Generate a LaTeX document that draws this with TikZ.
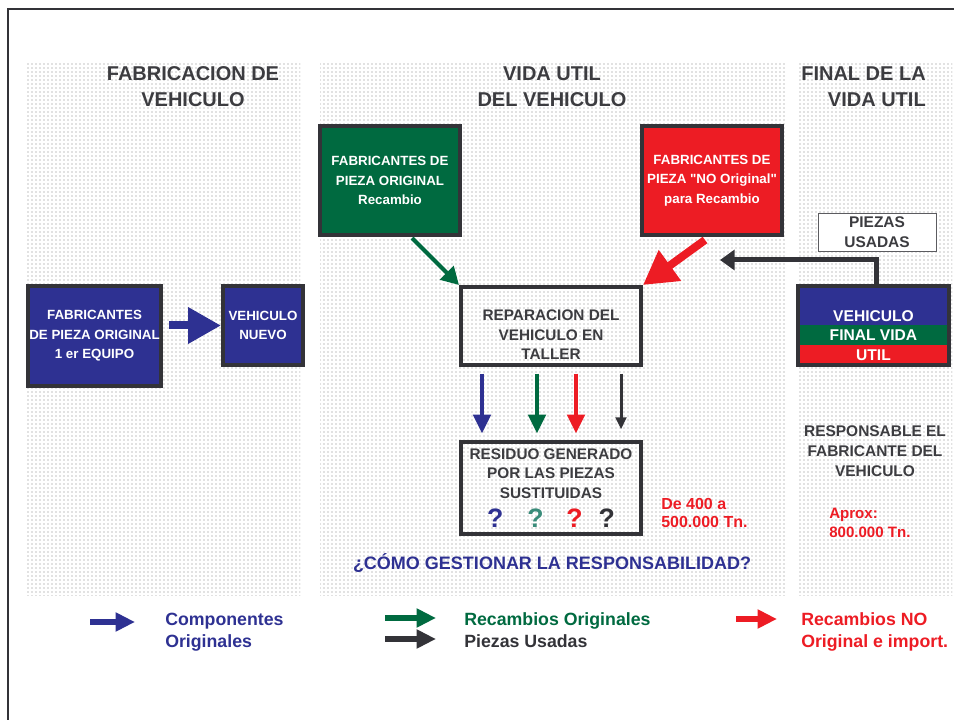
\documentclass[tikz,border=0pt]{standalone}
\usepackage{fontspec}
\setmainfont{Liberation Sans}[Ligatures=TeXOff]
\usetikzlibrary{arrows.meta,patterns,calc}
\definecolor{vblue}{RGB}{46,49,146}
\definecolor{vgreen}{RGB}{0,106,64}
\definecolor{vred}{RGB}{237,28,36}
\definecolor{dgray}{RGB}{51,51,56}
\definecolor{tgray}{RGB}{60,60,64}
\definecolor{qteal}{RGB}{58,140,122}

\begin{document}
\begin{tikzpicture}[x=0.75pt,y=-0.75pt,
  panel/.style={pattern=dots,pattern color=black!50},
  title/.style={font=\fontsize{15}{19.5}\selectfont\bfseries,text=tgray,align=center,inner sep=0pt},
  cbox/.style={draw=dgray,line width=3pt,align=center,text=white,inner sep=0pt,
    font=\fontsize{10}{14.6}\selectfont\bfseries},
  wbox/.style={draw=dgray,line width=3pt,inner sep=0pt},
  btext/.style={font=\fontsize{11.5}{14.6}\selectfont\bfseries,text=tgray,align=center,inner sep=0pt},
  note/.style={font=\fontsize{12}{13.5}\selectfont\bfseries,text=vred,align=left,inner sep=0pt,anchor=west},
  legend/.style={font=\fontsize{13.3}{16.5}\selectfont\bfseries,align=left,anchor=west,inner sep=0pt},
  legarrow/.style={line width=4.5pt,-{Triangle[length=14.5pt,width=13.5pt]}},
  downarrow/.style={line width=3pt,shorten <=5pt,shorten >=5pt,-{Triangle[length=14pt,width=13pt]}}]
\useasboundingbox (0,0) rectangle (954,720);
\draw[dgray,line width=1.5pt] (8,720) |- (954,9);
\fill[panel] (27,63) rectangle (300,595);
\fill[panel] (320,63) rectangle (785,595);
\fill[panel] (797,63) rectangle (952,595);
% titles
\node[title] (tFab) at (193,87) {FABRICACION DE\\VEHICULO};
\node[title] (tVida) at (552,87) {VIDA UTIL\\DEL VEHICULO};
\node[title,align=right,anchor=east] (tFin) at (926,87) {FINAL DE LA\\VIDA UTIL};
% boxes
\node[cbox,fill=vblue,minimum width=99.75pt,minimum height=75pt] (fab) at (94.5,336)
  {FABRICANTES\\DE PIEZA ORIGINAL\\1 er EQUIPO};
\node[cbox,fill=vblue,minimum width=60pt,minimum height=59.25pt] (nuevo) at (263,325.5)
  {VEHICULO\\NUEVO};
\node[cbox,fill=vgreen,minimum width=105pt,minimum height=81.75pt] (orig) at (390,180.5)
  {FABRICANTES DE\\PIEZA ORIGINAL\\Recambio};
\node[cbox,fill=vred,minimum width=105pt,minimum height=81.75pt] (noorig) at (712,180.5)
  {FABRICANTES DE\\PIEZA "NO Original"\\para Recambio};
\node[wbox,minimum width=135pt,minimum height=58.5pt] (rep) at (551,326) {};
\node[btext] (repT) at (551,335) {REPARACION DEL\\VEHICULO EN\\TALLER};
\node[wbox,btext,minimum width=135pt,minimum height=69pt] (res) at (551,488)
  {RESIDUO GENERADO\\POR LAS PIEZAS\\SUSTITUIDAS\\[7pt]{\fontsize{20}{24}\selectfont
  \textcolor{vblue}{?}\hspace{18pt}\textcolor{qteal}{?}\hspace{17pt}\textcolor{vred}{?}\hspace{12pt}\textcolor{dgray}{?}}};
\node[draw=dgray!80,line width=0.75pt,fill=white,minimum width=88.5pt,minimum height=29pt,
  btext,font=\fontsize{11.6}{15}\selectfont\bfseries] (used) at (877,232.5) {PIEZAS\\USADAS};
\node[wbox,fill=vblue,minimum width=113.25pt,minimum height=59.25pt,
  path picture={
    \fill[vred] (path picture bounding box.south west) rectangle ([yshift=15pt]path picture bounding box.south east);
    \fill[vgreen] ([yshift=15pt]path picture bounding box.south west) rectangle ([yshift=30pt]path picture bounding box.south east);
  }] (fin) at (873.5,325.5) {};
\node[btext,text=white,font=\fontsize{11.7}{14.6}\selectfont\bfseries] (finT) at (873.5,335.5)
  {VEHICULO\\FINAL VIDA\\UTIL};
% texts
\node[note] (tons) at (661,513) {De 400 a\\500.000 Tn.};
\node[btext,font=\fontsize{11.6}{15}\selectfont\bfseries] (resp) at (875,451)
  {RESPONSABLE EL\\FABRICANTE DEL\\VEHICULO};
\node[note,font=\fontsize{11.3}{14.25}\selectfont\bfseries] (aprox) at (829,522.5) {Aprox:\\800.000 Tn.};
\node[font=\fontsize{13.5}{16}\selectfont\bfseries,text=vblue,inner sep=0pt] (ask) at (552,563)
  {¿CÓMO GESTIONAR LA RESPONSABILIDAD?};
% connectors
\coordinate (usedEnd) at (720,260);
\draw[vblue,line width=6pt,-{Triangle[length=24.75pt,width=26pt]}]
  ($(fab.east |- nuevo.west)+(6,0)$) -- (nuevo.west);
\draw[vgreen,line width=3pt,-{Triangle[length=13pt,width=14pt]}]
  ($(orig.south)+(22,1)$) -- (rep.north west);
\draw[vred,line width=6pt,-{Triangle[length=25pt,width=27pt]}]
  ($(noorig.south)+(-7,3)$) -- (rep.north east);
\draw[dgray,line width=3.75pt,-{Triangle[length=11pt,width=15pt]}]
  ($(fin.north)+(3,0)$) |- (usedEnd);
\draw[downarrow,vblue] ($(rep.south)+(-69,0)$) -- ($(res.north)+(-69,0)$);
\draw[downarrow,vgreen] ($(rep.south)+(-14,0)$) -- ($(res.north)+(-14,0)$);
\draw[downarrow,vred] ($(rep.south)+(25,0)$) -- ($(res.north)+(25,0)$);
\draw[downarrow,dgray,line width=2.25pt,shorten >=8pt,-{Triangle[length=9pt,width=8pt]}]
  ($(rep.south)+(70,0)$) -- ($(res.north)+(70,0)$);
% legend
\coordinate (lgBlue) at (90,622);
\coordinate (lgGreen) at (385,618);
\coordinate (lgGray) at (385,639);
\coordinate (lgRed) at (736,619);
\draw[legarrow,vblue] (lgBlue) -- ++(45,0);
\draw[legarrow,vgreen] (lgGreen) -- ++(51,0);
\draw[legarrow,dgray] (lgGray) -- ++(51,0);
\draw[legarrow,vred] (lgRed) -- ++(41,0);
\node[legend,text=vblue] (lComp) at (165,632) {Componentes\\Originales};
\node[legend,text=vgreen] (lRec) at (464,621) {Recambios Originales};
\node[legend,text=dgray] (lUsed) at (464,641) {Piezas Usadas};
\node[legend,text=vred] (lNo) at (801,632) {Recambios NO\\Original e import.};
\end{tikzpicture}
\end{document}
